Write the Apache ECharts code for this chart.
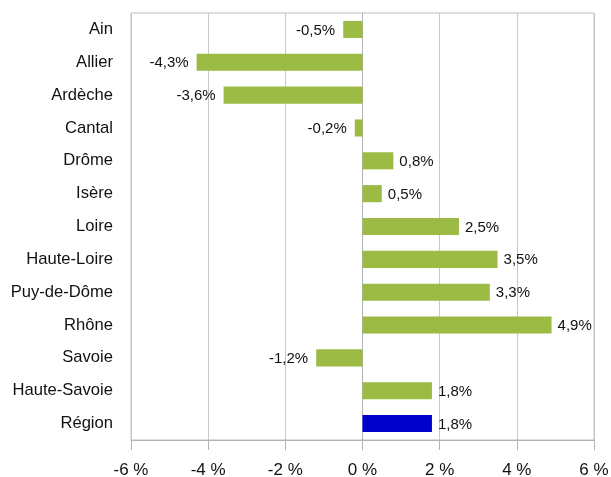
<!DOCTYPE html>
<html><head><meta charset="utf-8">
<script src="https://cdn.jsdelivr.net/npm/echarts@6/dist/echarts.min.js"></script>
<style>html,body{margin:0;padding:0;background:#fff}#c{width:611px;height:477px}</style>
</head><body><div id="c"></div>
<script>
const categories = ["Ain","Allier","Ardèche","Cantal","Drôme","Isère","Loire","Haute-Loire","Puy-de-Dôme","Rhône","Savoie","Haute-Savoie","Région"];
const values = [-0.5,-4.3,-3.6,-0.2,0.8,0.5,2.5,3.5,3.3,4.9,-1.2,1.8,1.8];
const highlight = "Région";
const xTicks = [-6,-4,-2,0,2,4,6];

const green = "#9BBB45", blue = "#0000CC";
const font = "'Liberation Sans', Arial, sans-serif";
const chart = echarts.init(document.getElementById('c'), null, {renderer:'canvas'});
chart.setOption({
  animation:false,
  grid:{left:131,right:17,top:13,bottom:37,show:true,borderColor:'#BFBFBF',borderWidth:1,outerBoundsMode:'none',containLabel:false},
  xAxis:{type:'value',min:xTicks[0],max:xTicks[xTicks.length-1],interval:2,
    axisLine:{show:true,onZero:false,lineStyle:{color:'#B3B3B3'}},
    axisTick:{show:true,length:10,lineStyle:{color:'#B3B3B3'}},
    splitLine:{show:true,lineStyle:{color:'#C8C8C8'}},
    axisLabel:{formatter:v=>v+' %',color:'#111',fontSize:17,fontFamily:font,margin:22}},
  yAxis:{type:'category',data:categories,inverse:true,
    axisLine:{show:true,lineStyle:{color:'#B3B3B3'}},
    axisTick:{show:false},
    axisLabel:{color:'#111',fontSize:16.6,fontFamily:font,margin:18}},
  series:[{type:'bar',barWidth:'52%',
    data:values.map((v,i)=>({value:v,itemStyle:{color:categories[i]===highlight?blue:green},
      label:{position:v<0?'left':'right',distance:v<0?8:6}})),
    label:{show:true,color:'#111',fontSize:15,fontFamily:font,offset:[0,1],
      formatter:p=>String(p.value).replace('.',',')+'%'}}]
});
</script></body></html>
